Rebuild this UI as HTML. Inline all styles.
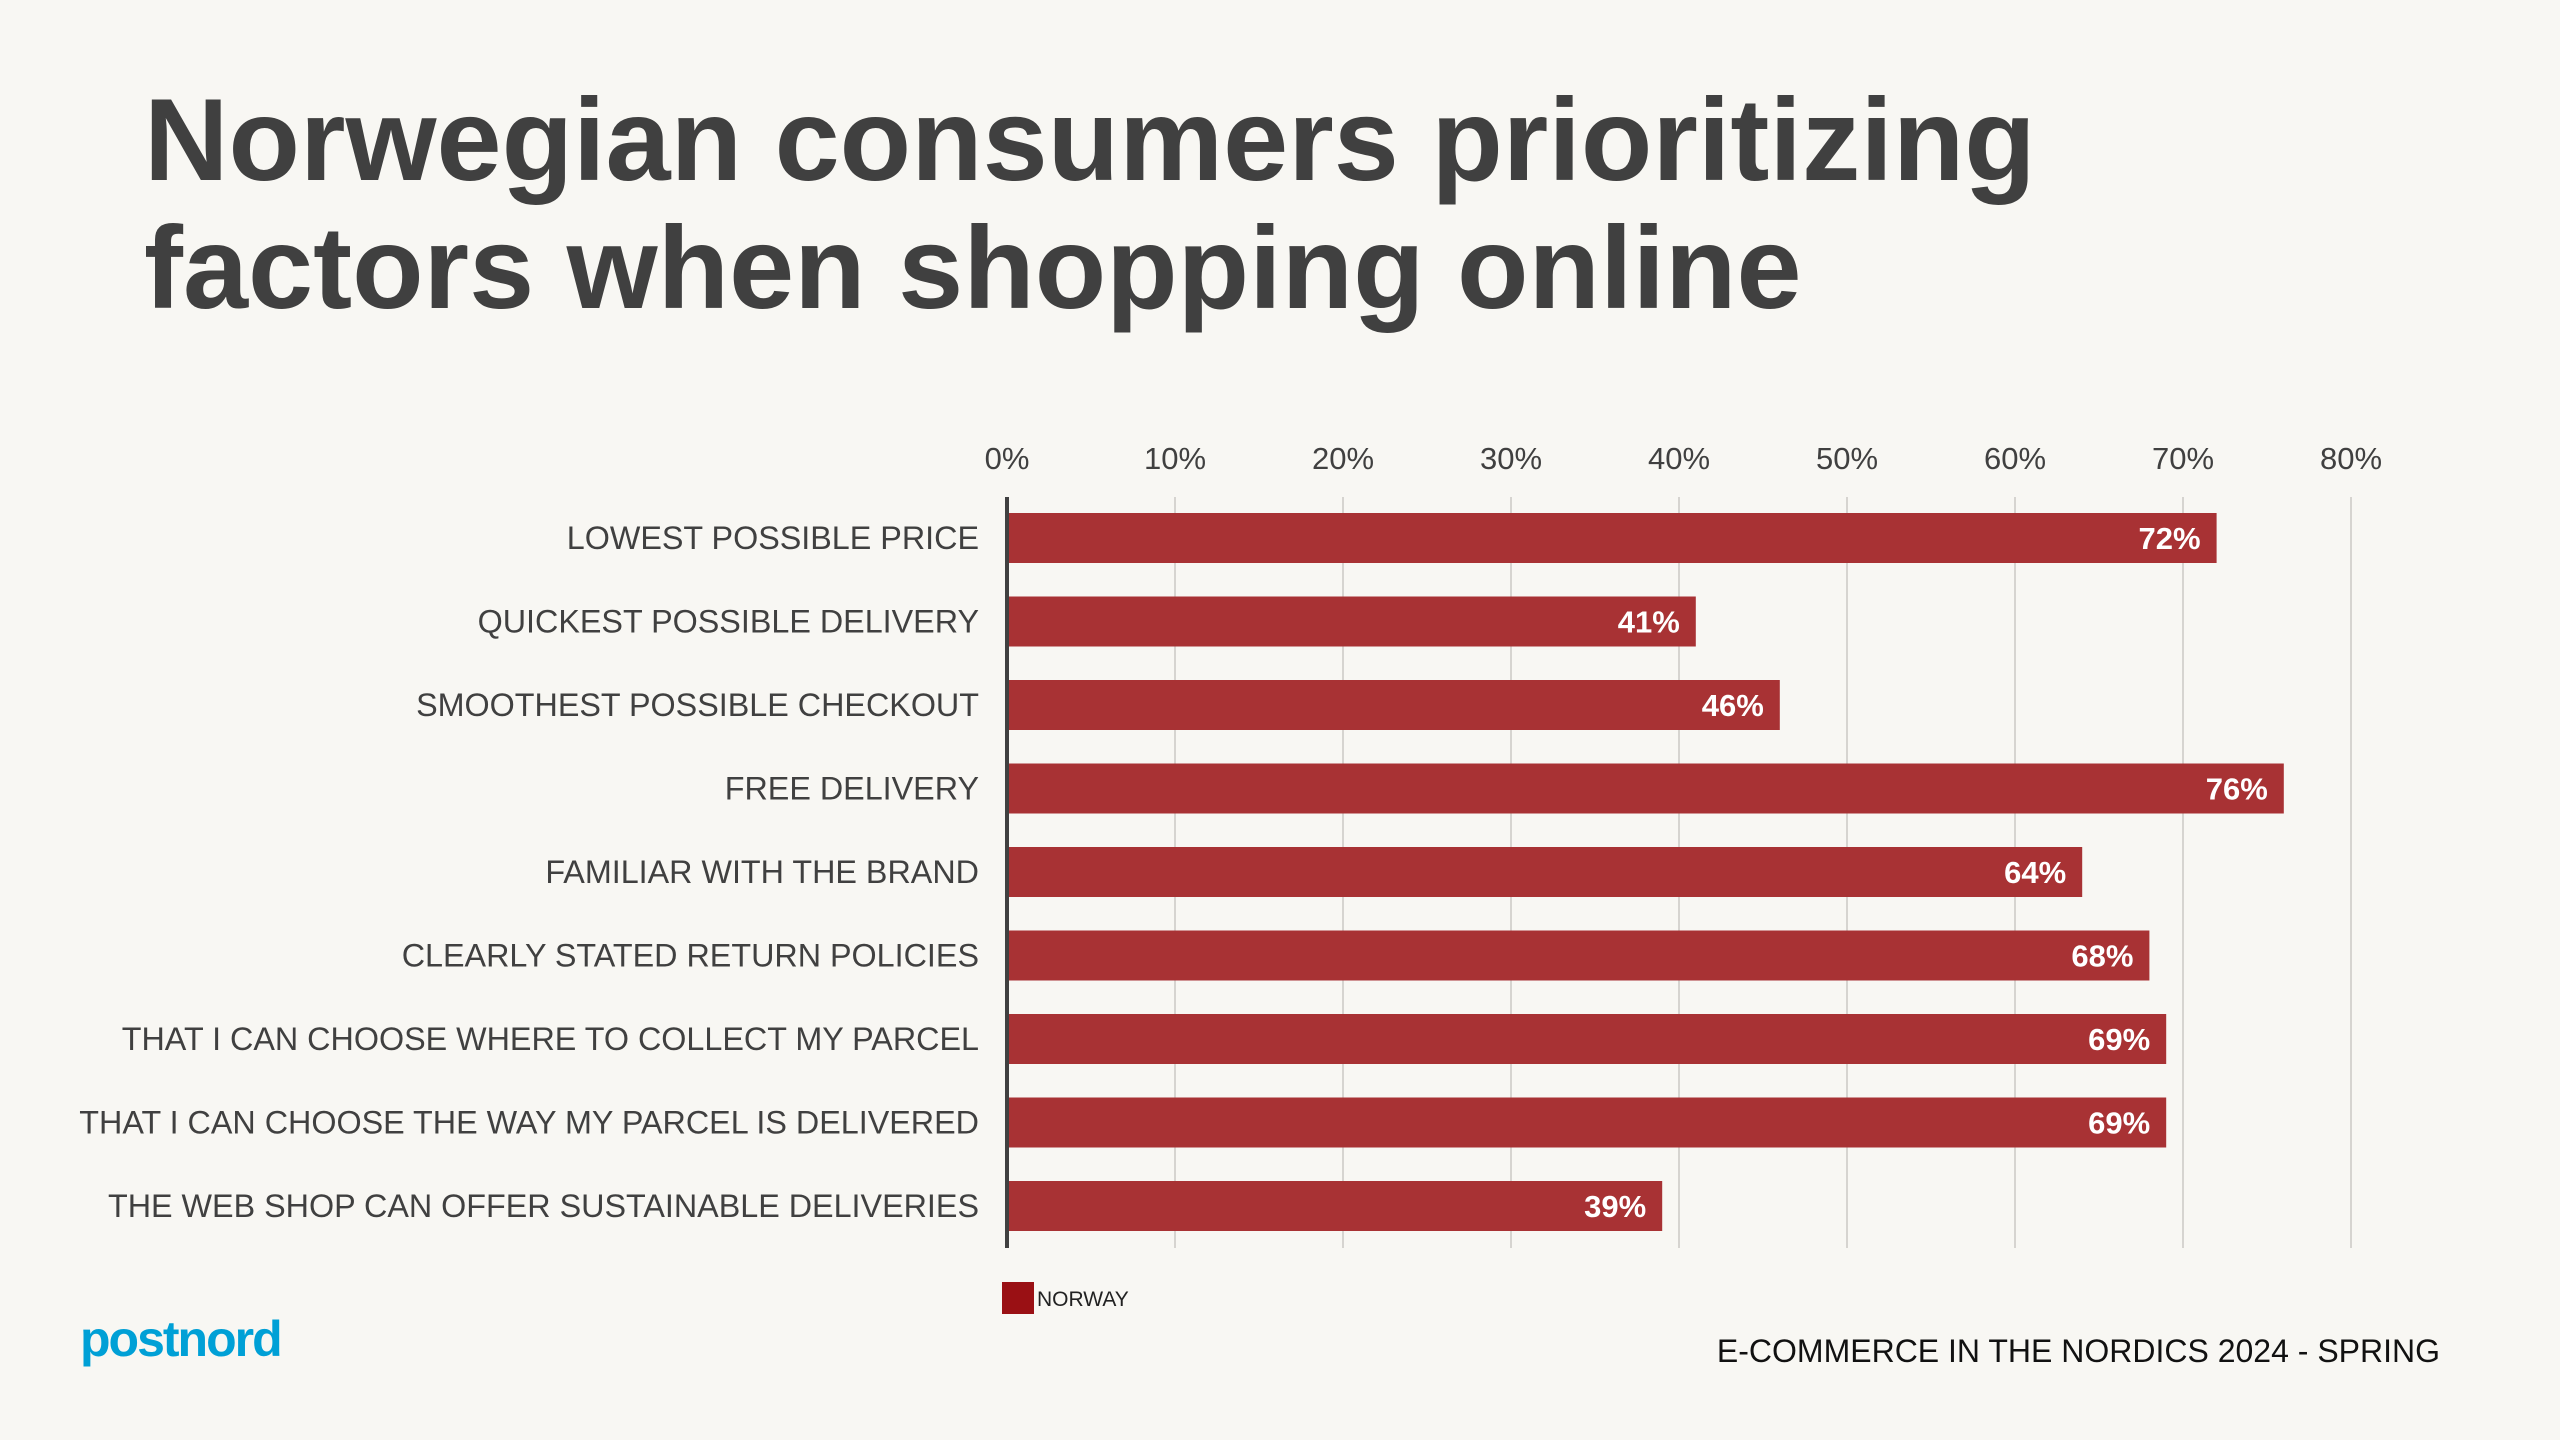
<!DOCTYPE html>
<html><head><meta charset="utf-8"><style>
body{margin:0;width:2560px;height:1440px;background:#F8F7F3;overflow:hidden;font-family:"Liberation Sans",sans-serif;position:relative}
.title{position:absolute;left:144px;top:76px;font-size:117px;font-weight:bold;color:#404040;line-height:128px;margin:0}
</style></head><body>
<h1 class="title">Norwegian consumers prioritizing<br>factors when shopping online</h1>
<svg id="chart" width="2560" height="1440" style="position:absolute;left:0;top:0"></svg>
<div style="position:absolute;left:80px;top:1310px;font-size:50px;font-weight:bold;color:#00A0D6;letter-spacing:-2px">postnord</div>
<div style="position:absolute;right:120px;top:1333px;font-size:32px;color:#111">E-COMMERCE IN THE NORDICS 2024 - SPRING</div>
<script>
const categories=["LOWEST POSSIBLE PRICE","QUICKEST POSSIBLE DELIVERY","SMOOTHEST POSSIBLE CHECKOUT","FREE DELIVERY","FAMILIAR WITH THE BRAND","CLEARLY STATED RETURN POLICIES","THAT I CAN CHOOSE WHERE TO COLLECT MY PARCEL","THAT I CAN CHOOSE THE WAY MY PARCEL IS DELIVERED","THE WEB SHOP CAN OFFER SUSTAINABLE DELIVERIES"];
const values=[72,41,46,76,64,68,69,69,39];
const ticks=[0,10,20,30,40,50,60,70,80];
const NS="http://www.w3.org/2000/svg";
const svg=document.getElementById('chart');
const x0=1007,x1=2351,plotTop=497,plotBot=1248,band=83.5,firstC=538,barH=50;
const xs=v=>x0+(v/80)*(x1-x0);
const yc=i=>firstC+i*band;
function mk(t,a,txt){const e=document.createElementNS(NS,t);for(const k in a)e.setAttribute(k,a[k]);if(txt!=null)e.textContent=txt;svg.appendChild(e);return e;}
ticks.forEach(t=>{
  if(t>0){const g=mk('line',{x1:xs(t),x2:xs(t),y1:plotTop,y2:plotBot,stroke:'#d6d4d0','stroke-width':2});
  
  }
  const l=mk('text',{x:xs(t),y:469,'text-anchor':'middle','font-size':31,fill:'#404040','font-family':'Liberation Sans'},t+'%');
  
  
});
categories.forEach((c,i)=>{
  const b=mk('rect',{x:x0,y:yc(i)-barH/2,width:xs(values[i])-x0,height:barH,fill:'#A83234'});
  
  
  const v=mk('text',{x:xs(values[i])-16,y:yc(i)+11,'text-anchor':'end','font-size':31,'font-weight':'bold',fill:'#fff','font-family':'Liberation Sans'},values[i]+'%');
  
  
  const l=mk('text',{x:979,y:yc(i)+11,'text-anchor':'end','font-size':32.3,fill:'#404040','font-family':'Liberation Sans'},c);
  
  
});
const ax=mk('line',{x1:x0,x2:x0,y1:plotTop,y2:plotBot,stroke:'#404040','stroke-width':4});


const ls=mk('rect',{x:1002,y:1282,width:32,height:32,fill:'#9A1014'});


const lt=mk('text',{x:1037,y:1306,'font-size':21,fill:'#222','font-family':'Liberation Sans'},'NORWAY');


</script>
</body></html>
